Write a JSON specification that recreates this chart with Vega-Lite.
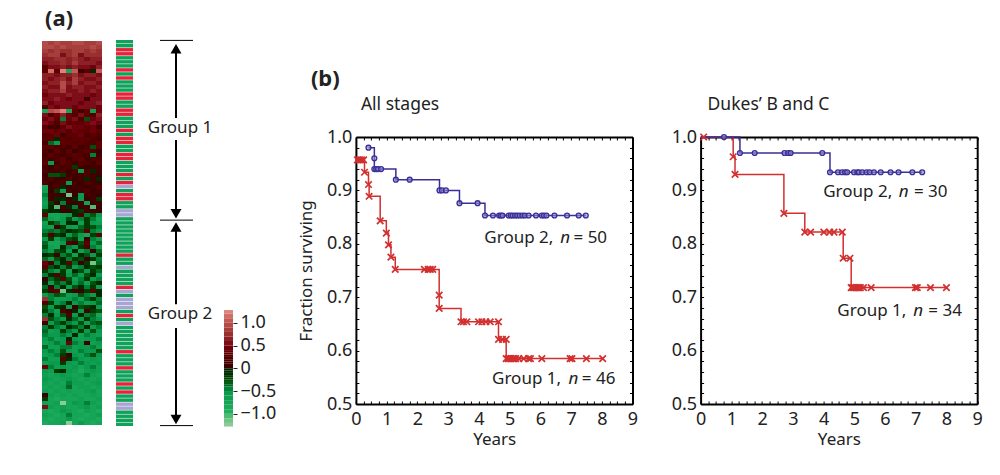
{"$schema":"https://vega.github.io/schema/vega-lite/v6.json","background":"white","padding":{"left":42,"top":8,"right":5,"bottom":5},
"config":{"view":{"stroke":null},"font":"Noto Sans","axis":{"labelFont":"Noto Sans","titleFont":"Noto Sans","labelColor":"#222","titleColor":"#222","labelFontSize":18,"titleFontSize":17,"titleFontWeight":"normal","grid":false},"title":{"font":"Noto Sans","color":"#222"}},
"datasets":{
"km":[
{"p":"A","g":1,"t":0,"f":0.957,"c":0},{"p":"A","g":1,"t":0.05,"f":0.957,"c":1},{"p":"A","g":1,"t":0.12,"f":0.957,"c":1},{"p":"A","g":1,"t":0.18,"f":0.957,"c":1},{"p":"A","g":1,"t":0.25,"f":0.957,"c":1},{"p":"A","g":1,"t":0.28,"f":0.934,"c":1},{"p":"A","g":1,"t":0.41,"f":0.911,"c":1},{"p":"A","g":1,"t":0.43,"f":0.889,"c":1},{"p":"A","g":1,"t":0.79,"f":0.843,"c":1},{"p":"A","g":1,"t":0.99,"f":0.82,"c":1},{"p":"A","g":1,"t":1.06,"f":0.798,"c":1},{"p":"A","g":1,"t":1.14,"f":0.775,"c":1},{"p":"A","g":1,"t":1.28,"f":0.752,"c":1},{"p":"A","g":1,"t":2.23,"f":0.752,"c":1},{"p":"A","g":1,"t":2.35,"f":0.752,"c":1},{"p":"A","g":1,"t":2.42,"f":0.752,"c":1},{"p":"A","g":1,"t":2.5,"f":0.752,"c":1},{"p":"A","g":1,"t":2.71,"f":0.704,"c":1},{"p":"A","g":1,"t":2.71,"f":0.679,"c":1},{"p":"A","g":1,"t":3.42,"f":0.654,"c":1},{"p":"A","g":1,"t":3.5,"f":0.654,"c":1},{"p":"A","g":1,"t":3.61,"f":0.654,"c":1},{"p":"A","g":1,"t":3.99,"f":0.654,"c":1},{"p":"A","g":1,"t":4.1,"f":0.654,"c":1},{"p":"A","g":1,"t":4.23,"f":0.654,"c":1},{"p":"A","g":1,"t":4.37,"f":0.654,"c":1},{"p":"A","g":1,"t":4.64,"f":0.654,"c":1},{"p":"A","g":1,"t":4.64,"f":0.621,"c":1},{"p":"A","g":1,"t":4.77,"f":0.621,"c":1},{"p":"A","g":1,"t":4.89,"f":0.621,"c":1},{"p":"A","g":1,"t":4.89,"f":0.585,"c":1},{"p":"A","g":1,"t":4.95,"f":0.585,"c":1},{"p":"A","g":1,"t":5,"f":0.585,"c":1},{"p":"A","g":1,"t":5.05,"f":0.585,"c":1},{"p":"A","g":1,"t":5.1,"f":0.585,"c":1},{"p":"A","g":1,"t":5.15,"f":0.585,"c":1},{"p":"A","g":1,"t":5.2,"f":0.585,"c":1},{"p":"A","g":1,"t":5.3,"f":0.585,"c":1},{"p":"A","g":1,"t":5.46,"f":0.585,"c":1},{"p":"A","g":1,"t":5.62,"f":0.585,"c":1},{"p":"A","g":1,"t":5.68,"f":0.585,"c":1},{"p":"A","g":1,"t":6.05,"f":0.585,"c":1},{"p":"A","g":1,"t":6.97,"f":0.585,"c":1},{"p":"A","g":1,"t":7.03,"f":0.585,"c":1},{"p":"A","g":1,"t":7.5,"f":0.585,"c":1},{"p":"A","g":1,"t":8.03,"f":0.585,"c":1},
{"p":"A","g":2,"t":0.41,"f":0.98,"c":1},{"p":"A","g":2,"t":0.58,"f":0.98,"c":0},{"p":"A","g":2,"t":0.6,"f":0.96,"c":1},{"p":"A","g":2,"t":0.6,"f":0.94,"c":1},{"p":"A","g":2,"t":0.66,"f":0.94,"c":1},{"p":"A","g":2,"t":0.72,"f":0.94,"c":1},{"p":"A","g":2,"t":0.82,"f":0.94,"c":1},{"p":"A","g":2,"t":1.3,"f":0.92,"c":1},{"p":"A","g":2,"t":1.75,"f":0.92,"c":1},{"p":"A","g":2,"t":2.72,"f":0.9,"c":1},{"p":"A","g":2,"t":2.8,"f":0.9,"c":1},{"p":"A","g":2,"t":2.93,"f":0.9,"c":1},{"p":"A","g":2,"t":3.37,"f":0.876,"c":1},{"p":"A","g":2,"t":3.96,"f":0.876,"c":1},{"p":"A","g":2,"t":4.2,"f":0.853,"c":1},{"p":"A","g":2,"t":4.46,"f":0.853,"c":1},{"p":"A","g":2,"t":4.66,"f":0.853,"c":1},{"p":"A","g":2,"t":4.72,"f":0.853,"c":1},{"p":"A","g":2,"t":4.77,"f":0.853,"c":1},{"p":"A","g":2,"t":4.97,"f":0.853,"c":1},{"p":"A","g":2,"t":5.04,"f":0.853,"c":1},{"p":"A","g":2,"t":5.1,"f":0.853,"c":1},{"p":"A","g":2,"t":5.18,"f":0.853,"c":1},{"p":"A","g":2,"t":5.25,"f":0.853,"c":1},{"p":"A","g":2,"t":5.33,"f":0.853,"c":1},{"p":"A","g":2,"t":5.42,"f":0.853,"c":1},{"p":"A","g":2,"t":5.5,"f":0.853,"c":1},{"p":"A","g":2,"t":5.62,"f":0.853,"c":1},{"p":"A","g":2,"t":5.86,"f":0.853,"c":1},{"p":"A","g":2,"t":6.05,"f":0.853,"c":1},{"p":"A","g":2,"t":6.12,"f":0.853,"c":1},{"p":"A","g":2,"t":6.2,"f":0.853,"c":1},{"p":"A","g":2,"t":6.46,"f":0.853,"c":1},{"p":"A","g":2,"t":6.87,"f":0.853,"c":1},{"p":"A","g":2,"t":7.25,"f":0.853,"c":1},{"p":"A","g":2,"t":7.48,"f":0.853,"c":1},
{"p":"B","g":1,"t":0,"f":1,"c":0},{"p":"B","g":1,"t":0.1,"f":1,"c":1},{"p":"B","g":1,"t":1.06,"f":0.963,"c":1},{"p":"B","g":1,"t":1.12,"f":0.93,"c":1},{"p":"B","g":1,"t":2.71,"f":0.857,"c":1},{"p":"B","g":1,"t":3.39,"f":0.822,"c":1},{"p":"B","g":1,"t":3.58,"f":0.822,"c":1},{"p":"B","g":1,"t":4.01,"f":0.822,"c":1},{"p":"B","g":1,"t":4.2,"f":0.822,"c":1},{"p":"B","g":1,"t":4.34,"f":0.822,"c":1},{"p":"B","g":1,"t":4.61,"f":0.822,"c":1},{"p":"B","g":1,"t":4.64,"f":0.773,"c":1},{"p":"B","g":1,"t":4.86,"f":0.773,"c":1},{"p":"B","g":1,"t":4.9,"f":0.718,"c":1},{"p":"B","g":1,"t":4.95,"f":0.718,"c":1},{"p":"B","g":1,"t":5,"f":0.718,"c":1},{"p":"B","g":1,"t":5.05,"f":0.718,"c":1},{"p":"B","g":1,"t":5.1,"f":0.718,"c":1},{"p":"B","g":1,"t":5.15,"f":0.718,"c":1},{"p":"B","g":1,"t":5.2,"f":0.718,"c":1},{"p":"B","g":1,"t":5.3,"f":0.718,"c":1},{"p":"B","g":1,"t":5.55,"f":0.718,"c":1},{"p":"B","g":1,"t":6.99,"f":0.718,"c":1},{"p":"B","g":1,"t":7.05,"f":0.718,"c":1},{"p":"B","g":1,"t":7.48,"f":0.718,"c":1},{"p":"B","g":1,"t":8,"f":0.718,"c":1},
{"p":"B","g":2,"t":0,"f":1,"c":0},{"p":"B","g":2,"t":0.76,"f":1,"c":1},{"p":"B","g":2,"t":1.28,"f":0.97,"c":1},{"p":"B","g":2,"t":1.76,"f":0.97,"c":1},{"p":"B","g":2,"t":2.73,"f":0.97,"c":1},{"p":"B","g":2,"t":2.85,"f":0.97,"c":1},{"p":"B","g":2,"t":2.93,"f":0.97,"c":1},{"p":"B","g":2,"t":3.96,"f":0.97,"c":1},{"p":"B","g":2,"t":4.21,"f":0.934,"c":1},{"p":"B","g":2,"t":4.47,"f":0.934,"c":1},{"p":"B","g":2,"t":4.6,"f":0.934,"c":1},{"p":"B","g":2,"t":4.7,"f":0.934,"c":1},{"p":"B","g":2,"t":4.77,"f":0.934,"c":1},{"p":"B","g":2,"t":4.99,"f":0.934,"c":1},{"p":"B","g":2,"t":5.1,"f":0.934,"c":1},{"p":"B","g":2,"t":5.15,"f":0.934,"c":1},{"p":"B","g":2,"t":5.26,"f":0.934,"c":1},{"p":"B","g":2,"t":5.4,"f":0.934,"c":1},{"p":"B","g":2,"t":5.5,"f":0.934,"c":1},{"p":"B","g":2,"t":5.64,"f":0.934,"c":1},{"p":"B","g":2,"t":5.86,"f":0.934,"c":1},{"p":"B","g":2,"t":6.18,"f":0.934,"c":1},{"p":"B","g":2,"t":6.44,"f":0.934,"c":1},{"p":"B","g":2,"t":6.89,"f":0.934,"c":1},{"p":"B","g":2,"t":7.21,"f":0.934,"c":1}
],
"notes":[{"p":"A","t":4.18,"f":0.8115,"s":"Group 2,","i":0},{"p":"A","t":6.65,"f":0.8115,"s":"n","i":1},{"p":"A","t":7.08,"f":0.8115,"s":"= 50","i":0},{"p":"A","t":4.43,"f":0.546,"s":"Group 1,","i":0},{"p":"A","t":6.92,"f":0.546,"s":"n","i":1},{"p":"A","t":7.35,"f":0.546,"s":"= 46","i":0},{"p":"B","t":3.99,"f":0.8976,"s":"Group 2,","i":0},{"p":"B","t":6.45,"f":0.8976,"s":"n","i":1},{"p":"B","t":6.94,"f":0.8976,"s":"= 30","i":0},{"p":"B","t":4.45,"f":0.674,"s":"Group 1,","i":0},{"p":"B","t":6.92,"f":0.674,"s":"n","i":1},{"p":"B","t":7.41,"f":0.674,"s":"= 34","i":0}],
"heat":[
{"r":0,"c":0,"v":0.9},{"r":0,"c":1,"v":0.8},{"r":0,"c":2,"v":0.9},{"r":0,"c":3,"v":0.8},{"r":0,"c":4,"v":0.8},{"r":0,"c":5,"v":0.9},{"r":0,"c":6,"v":0.9},{"r":0,"c":7,"v":0.8},{"r":0,"c":8,"v":0.8},{"r":0,"c":9,"v":0.9},
{"r":1,"c":0,"v":0.9},{"r":1,"c":1,"v":0.9},{"r":1,"c":2,"v":0.8},{"r":1,"c":3,"v":0.9},{"r":1,"c":4,"v":0.8},{"r":1,"c":5,"v":0.8},{"r":1,"c":6,"v":0.8},{"r":1,"c":7,"v":0.8},{"r":1,"c":8,"v":0.9},{"r":1,"c":9,"v":0.8},
{"r":2,"c":0,"v":0.8},{"r":2,"c":1,"v":0.7},{"r":2,"c":2,"v":0.8},{"r":2,"c":3,"v":0.7},{"r":2,"c":4,"v":0.7},{"r":2,"c":5,"v":0.8},{"r":2,"c":6,"v":0.8},{"r":2,"c":7,"v":0.7},{"r":2,"c":8,"v":0.8},{"r":2,"c":9,"v":0.7},
{"r":3,"c":0,"v":0.7},{"r":3,"c":1,"v":0.8},{"r":3,"c":2,"v":0.8},{"r":3,"c":3,"v":0.5},{"r":3,"c":4,"v":0.7},{"r":3,"c":5,"v":0.8},{"r":3,"c":6,"v":0.5},{"r":3,"c":7,"v":0.7},{"r":3,"c":8,"v":0.7},{"r":3,"c":9,"v":0.7},
{"r":4,"c":0,"v":0.6},{"r":4,"c":1,"v":0.6},{"r":4,"c":2,"v":0.7},{"r":4,"c":3,"v":0.7},{"r":4,"c":4,"v":0.6},{"r":4,"c":5,"v":0.7},{"r":4,"c":6,"v":0.6},{"r":4,"c":7,"v":0.5},{"r":4,"c":8,"v":0.6},{"r":4,"c":9,"v":0.6},
{"r":5,"c":0,"v":0.5},{"r":5,"c":1,"v":0.6},{"r":5,"c":2,"v":0.6},{"r":5,"c":3,"v":0.7},{"r":5,"c":4,"v":0.6},{"r":5,"c":5,"v":0.8},{"r":5,"c":6,"v":0.6},{"r":5,"c":7,"v":0.6},{"r":5,"c":8,"v":0.6},{"r":5,"c":9,"v":0.5},
{"r":6,"c":0,"v":0.3},{"r":6,"c":1,"v":0.5},{"r":6,"c":2,"v":0.5},{"r":6,"c":3,"v":0.6},{"r":6,"c":4,"v":0.5},{"r":6,"c":5,"v":0.6},{"r":6,"c":6,"v":0.5},{"r":6,"c":7,"v":0.5},{"r":6,"c":8,"v":0.4},{"r":6,"c":9,"v":0.6},
{"r":7,"c":0,"v":0.3},{"r":7,"c":1,"v":1.1},{"r":7,"c":2,"v":0.3},{"r":7,"c":3,"v":1.2},{"r":7,"c":4,"v":-0.8},{"r":7,"c":5,"v":1},{"r":7,"c":6,"v":0},{"r":7,"c":7,"v":0.3},{"r":7,"c":8,"v":-0.1},{"r":7,"c":9,"v":1},
{"r":8,"c":0,"v":0.6},{"r":8,"c":1,"v":0.6},{"r":8,"c":2,"v":0.5},{"r":8,"c":3,"v":0.6},{"r":8,"c":4,"v":0.6},{"r":8,"c":5,"v":0.7},{"r":8,"c":6,"v":0.5},{"r":8,"c":7,"v":0.6},{"r":8,"c":8,"v":0.6},{"r":8,"c":9,"v":0.5},
{"r":9,"c":0,"v":0.6},{"r":9,"c":1,"v":0.5},{"r":9,"c":2,"v":0.6},{"r":9,"c":3,"v":0.7},{"r":9,"c":4,"v":0.5},{"r":9,"c":5,"v":0.8},{"r":9,"c":6,"v":0.6},{"r":9,"c":7,"v":0.5},{"r":9,"c":8,"v":0.5},{"r":9,"c":9,"v":0.6},
{"r":10,"c":0,"v":0.5},{"r":10,"c":1,"v":0.6},{"r":10,"c":2,"v":0.6},{"r":10,"c":3,"v":0.9},{"r":10,"c":4,"v":0.6},{"r":10,"c":5,"v":0.8},{"r":10,"c":6,"v":0.5},{"r":10,"c":7,"v":0.6},{"r":10,"c":8,"v":0.6},{"r":10,"c":9,"v":0.5},
{"r":11,"c":0,"v":0.6},{"r":11,"c":1,"v":0.5},{"r":11,"c":2,"v":0.5},{"r":11,"c":3,"v":0.9},{"r":11,"c":4,"v":0.5},{"r":11,"c":5,"v":0.6},{"r":11,"c":6,"v":0.6},{"r":11,"c":7,"v":0.5},{"r":11,"c":8,"v":0.5},{"r":11,"c":9,"v":0.6},
{"r":12,"c":0,"v":0.5},{"r":12,"c":1,"v":0.6},{"r":12,"c":2,"v":0.6},{"r":12,"c":3,"v":0.8},{"r":12,"c":4,"v":0.5},{"r":12,"c":5,"v":0.5},{"r":12,"c":6,"v":0.6},{"r":12,"c":7,"v":0.5},{"r":12,"c":8,"v":0.6},{"r":12,"c":9,"v":0.5},
{"r":13,"c":0,"v":0.4},{"r":13,"c":1,"v":0.5},{"r":13,"c":2,"v":0.5},{"r":13,"c":3,"v":0.5},{"r":13,"c":4,"v":0.6},{"r":13,"c":5,"v":0.5},{"r":13,"c":6,"v":0.5},{"r":13,"c":7,"v":0.5},{"r":13,"c":8,"v":0.4},{"r":13,"c":9,"v":0.5},
{"r":14,"c":0,"v":0.5},{"r":14,"c":1,"v":0.5},{"r":14,"c":2,"v":0.6},{"r":14,"c":3,"v":0.5},{"r":14,"c":4,"v":0.4},{"r":14,"c":5,"v":0.5},{"r":14,"c":6,"v":0.5},{"r":14,"c":7,"v":0.1},{"r":14,"c":8,"v":0.5},{"r":14,"c":9,"v":0.5},
{"r":15,"c":0,"v":0.6},{"r":15,"c":1,"v":0.4},{"r":15,"c":2,"v":0.5},{"r":15,"c":3,"v":0.5},{"r":15,"c":4,"v":0.5},{"r":15,"c":5,"v":0.5},{"r":15,"c":6,"v":0.4},{"r":15,"c":7,"v":0.5},{"r":15,"c":8,"v":0.5},{"r":15,"c":9,"v":0.6},
{"r":16,"c":0,"v":0.2},{"r":16,"c":1,"v":0.5},{"r":16,"c":2,"v":0.4},{"r":16,"c":3,"v":0.5},{"r":16,"c":4,"v":0.5},{"r":16,"c":5,"v":0.4},{"r":16,"c":6,"v":0.5},{"r":16,"c":7,"v":0.5},{"r":16,"c":8,"v":0.5},{"r":16,"c":9,"v":0.4},
{"r":17,"c":0,"v":-0.8},{"r":17,"c":1,"v":0.9},{"r":17,"c":2,"v":1},{"r":17,"c":3,"v":1.2},{"r":17,"c":4,"v":-0.8},{"r":17,"c":5,"v":0.3},{"r":17,"c":6,"v":0.1},{"r":17,"c":7,"v":0.3},{"r":17,"c":8,"v":-0.7},{"r":17,"c":9,"v":0.4},
{"r":18,"c":0,"v":0.5},{"r":18,"c":1,"v":0.2},{"r":18,"c":2,"v":0.4},{"r":18,"c":3,"v":0.6},{"r":18,"c":4,"v":0.4},{"r":18,"c":5,"v":0.2},{"r":18,"c":6,"v":0.5},{"r":18,"c":7,"v":0.3},{"r":18,"c":8,"v":0.2},{"r":18,"c":9,"v":0.6},
{"r":19,"c":0,"v":0.4},{"r":19,"c":1,"v":0.5},{"r":19,"c":2,"v":0.3},{"r":19,"c":3,"v":-0.5},{"r":19,"c":4,"v":0.4},{"r":19,"c":5,"v":0.5},{"r":19,"c":6,"v":0.2},{"r":19,"c":7,"v":-0.3},{"r":19,"c":8,"v":0.4},{"r":19,"c":9,"v":0.5},
{"r":20,"c":0,"v":0.5},{"r":20,"c":1,"v":0.4},{"r":20,"c":2,"v":0.2},{"r":20,"c":3,"v":0.5},{"r":20,"c":4,"v":0.3},{"r":20,"c":5,"v":0.3},{"r":20,"c":6,"v":0.3},{"r":20,"c":7,"v":0.4},{"r":20,"c":8,"v":0.5},{"r":20,"c":9,"v":0.4},
{"r":21,"c":0,"v":0.3},{"r":21,"c":1,"v":0.1},{"r":21,"c":2,"v":0.1},{"r":21,"c":3,"v":0.3},{"r":21,"c":4,"v":0.5},{"r":21,"c":5,"v":0.4},{"r":21,"c":6,"v":0.4},{"r":21,"c":7,"v":0.3},{"r":21,"c":8,"v":0.4},{"r":21,"c":9,"v":0.1},
{"r":22,"c":0,"v":0.4},{"r":22,"c":1,"v":0.4},{"r":22,"c":2,"v":0.3},{"r":22,"c":3,"v":0.4},{"r":22,"c":4,"v":0.2},{"r":22,"c":5,"v":0.4},{"r":22,"c":6,"v":0.3},{"r":22,"c":7,"v":0.3},{"r":22,"c":8,"v":0.4},{"r":22,"c":9,"v":0.3},
{"r":23,"c":0,"v":0.2},{"r":23,"c":1,"v":0.3},{"r":23,"c":2,"v":0.4},{"r":23,"c":3,"v":0.1},{"r":23,"c":4,"v":0.3},{"r":23,"c":5,"v":0.3},{"r":23,"c":6,"v":0.4},{"r":23,"c":7,"v":0.1},{"r":23,"c":8,"v":0.3},{"r":23,"c":9,"v":0.2},
{"r":24,"c":0,"v":0.3},{"r":24,"c":1,"v":0.3},{"r":24,"c":2,"v":-0.1},{"r":24,"c":3,"v":0.3},{"r":24,"c":4,"v":0.2},{"r":24,"c":5,"v":0.3},{"r":24,"c":6,"v":0.3},{"r":24,"c":7,"v":0.3},{"r":24,"c":8,"v":0.2},{"r":24,"c":9,"v":0.1},
{"r":25,"c":0,"v":0.1},{"r":25,"c":1,"v":-0.4},{"r":25,"c":2,"v":-0.6},{"r":25,"c":3,"v":0.3},{"r":25,"c":4,"v":0.3},{"r":25,"c":5,"v":0.2},{"r":25,"c":6,"v":0.3},{"r":25,"c":7,"v":0.2},{"r":25,"c":8,"v":0.2},{"r":25,"c":9,"v":0.3},
{"r":26,"c":0,"v":0.3},{"r":26,"c":1,"v":0.3},{"r":26,"c":2,"v":0.2},{"r":26,"c":3,"v":0.2},{"r":26,"c":4,"v":0.1},{"r":26,"c":5,"v":0.3},{"r":26,"c":6,"v":0.1},{"r":26,"c":7,"v":0.2},{"r":26,"c":8,"v":-0.3},{"r":26,"c":9,"v":0.3},
{"r":27,"c":0,"v":0.2},{"r":27,"c":1,"v":0},{"r":27,"c":2,"v":0.3},{"r":27,"c":3,"v":0.1},{"r":27,"c":4,"v":0.3},{"r":27,"c":5,"v":0},{"r":27,"c":6,"v":0.2},{"r":27,"c":7,"v":0.3},{"r":27,"c":8,"v":0.2},{"r":27,"c":9,"v":0},
{"r":28,"c":0,"v":0.1},{"r":28,"c":1,"v":0.3},{"r":28,"c":2,"v":0.2},{"r":28,"c":3,"v":0.1},{"r":28,"c":4,"v":0.2},{"r":28,"c":5,"v":0.3},{"r":28,"c":6,"v":0.2},{"r":28,"c":7,"v":0.1},{"r":28,"c":8,"v":-0.5},{"r":28,"c":9,"v":0.1},
{"r":29,"c":0,"v":0.2},{"r":29,"c":1,"v":0.1},{"r":29,"c":2,"v":0.2},{"r":29,"c":3,"v":0.3},{"r":29,"c":4,"v":0.1},{"r":29,"c":5,"v":0.2},{"r":29,"c":6,"v":0.3},{"r":29,"c":7,"v":0.1},{"r":29,"c":8,"v":0.2},{"r":29,"c":9,"v":0.2},
{"r":30,"c":0,"v":0.3},{"r":30,"c":1,"v":-0.6},{"r":30,"c":2,"v":0.1},{"r":30,"c":3,"v":0.3},{"r":30,"c":4,"v":0.2},{"r":30,"c":5,"v":0.1},{"r":30,"c":6,"v":0.2},{"r":30,"c":7,"v":0.2},{"r":30,"c":8,"v":0.1},{"r":30,"c":9,"v":0.3},
{"r":31,"c":0,"v":0.1},{"r":31,"c":1,"v":0},{"r":31,"c":2,"v":0.2},{"r":31,"c":3,"v":0.1},{"r":31,"c":4,"v":0.2},{"r":31,"c":5,"v":-0.2},{"r":31,"c":6,"v":0.1},{"r":31,"c":7,"v":0},{"r":31,"c":8,"v":0.1},{"r":31,"c":9,"v":0.1},
{"r":32,"c":0,"v":0.2},{"r":32,"c":1,"v":0.1},{"r":32,"c":2,"v":0.1},{"r":32,"c":3,"v":0.2},{"r":32,"c":4,"v":0},{"r":32,"c":5,"v":0.2},{"r":32,"c":6,"v":-0.6},{"r":32,"c":7,"v":0.2},{"r":32,"c":8,"v":-0.1},{"r":32,"c":9,"v":0.1},
{"r":33,"c":0,"v":0},{"r":33,"c":1,"v":-0.3},{"r":33,"c":2,"v":-0.3},{"r":33,"c":3,"v":-0.2},{"r":33,"c":4,"v":0.1},{"r":33,"c":5,"v":0.1},{"r":33,"c":6,"v":0.1},{"r":33,"c":7,"v":0.2},{"r":33,"c":8,"v":0.1},{"r":33,"c":9,"v":0},
{"r":34,"c":0,"v":0.1},{"r":34,"c":1,"v":0.2},{"r":34,"c":2,"v":0.1},{"r":34,"c":3,"v":0},{"r":34,"c":4,"v":0.2},{"r":34,"c":5,"v":0},{"r":34,"c":6,"v":0.1},{"r":34,"c":7,"v":-0.1},{"r":34,"c":8,"v":0.1},{"r":34,"c":9,"v":-0.1},
{"r":35,"c":0,"v":0.2},{"r":35,"c":1,"v":0},{"r":35,"c":2,"v":0.1},{"r":35,"c":3,"v":0.2},{"r":35,"c":4,"v":-0.6},{"r":35,"c":5,"v":0.1},{"r":35,"c":6,"v":0},{"r":35,"c":7,"v":0.2},{"r":35,"c":8,"v":0.1},{"r":35,"c":9,"v":0},
{"r":36,"c":0,"v":-0.8},{"r":36,"c":1,"v":0.1},{"r":36,"c":2,"v":0.2},{"r":36,"c":3,"v":-0.1},{"r":36,"c":4,"v":0},{"r":36,"c":5,"v":0.1},{"r":36,"c":6,"v":0.1},{"r":36,"c":7,"v":0},{"r":36,"c":8,"v":0.1},{"r":36,"c":9,"v":0.2},
{"r":37,"c":0,"v":-0.7},{"r":37,"c":1,"v":0},{"r":37,"c":2,"v":-0.2},{"r":37,"c":3,"v":-0.6},{"r":37,"c":4,"v":0.1},{"r":37,"c":5,"v":0},{"r":37,"c":6,"v":0.1},{"r":37,"c":7,"v":0.2},{"r":37,"c":8,"v":0},{"r":37,"c":9,"v":0.1},
{"r":38,"c":0,"v":-0.5},{"r":38,"c":1,"v":0.1},{"r":38,"c":2,"v":0.1},{"r":38,"c":3,"v":0},{"r":38,"c":4,"v":-1.2},{"r":38,"c":5,"v":0},{"r":38,"c":6,"v":-0.6},{"r":38,"c":7,"v":0.1},{"r":38,"c":8,"v":0.1},{"r":38,"c":9,"v":0},
{"r":39,"c":0,"v":-0.6},{"r":39,"c":1,"v":0.1},{"r":39,"c":2,"v":-0.1},{"r":39,"c":3,"v":-0.1},{"r":39,"c":4,"v":0},{"r":39,"c":5,"v":-0.1},{"r":39,"c":6,"v":-0.6},{"r":39,"c":7,"v":0},{"r":39,"c":8,"v":0.1},{"r":39,"c":9,"v":-0.2},
{"r":40,"c":0,"v":-0.7},{"r":40,"c":1,"v":-0.2},{"r":40,"c":2,"v":0},{"r":40,"c":3,"v":-0.5},{"r":40,"c":4,"v":0},{"r":40,"c":5,"v":0},{"r":40,"c":6,"v":0.1},{"r":40,"c":7,"v":-0.7},{"r":40,"c":8,"v":0},{"r":40,"c":9,"v":0.1},
{"r":41,"c":0,"v":-0.6},{"r":41,"c":1,"v":-0.1},{"r":41,"c":2,"v":-1.1},{"r":41,"c":3,"v":0.1},{"r":41,"c":4,"v":-0.1},{"r":41,"c":5,"v":-0.5},{"r":41,"c":6,"v":0},{"r":41,"c":7,"v":0.1},{"r":41,"c":8,"v":-1.1},{"r":41,"c":9,"v":0},
{"r":42,"c":0,"v":-0.2},{"r":42,"c":1,"v":-0.1},{"r":42,"c":2,"v":-0.1},{"r":42,"c":3,"v":0},{"r":42,"c":4,"v":0},{"r":42,"c":5,"v":-0.1},{"r":42,"c":6,"v":-0.2},{"r":42,"c":7,"v":0.1},{"r":42,"c":8,"v":0.1},{"r":42,"c":9,"v":0},
{"r":43,"c":0,"v":0.3},{"r":43,"c":1,"v":-0.8},{"r":43,"c":2,"v":-0.8},{"r":43,"c":3,"v":-0.7},{"r":43,"c":4,"v":-0.6},{"r":43,"c":5,"v":-0.1},{"r":43,"c":6,"v":0.2},{"r":43,"c":7,"v":-0.5},{"r":43,"c":8,"v":-0.3},{"r":43,"c":9,"v":-0.6},
{"r":44,"c":0,"v":-0.4},{"r":44,"c":1,"v":-0.7},{"r":44,"c":2,"v":-0.8},{"r":44,"c":3,"v":-0.6},{"r":44,"c":4,"v":-0.3},{"r":44,"c":5,"v":-0.6},{"r":44,"c":6,"v":-0.5},{"r":44,"c":7,"v":-0.2},{"r":44,"c":8,"v":-0.5},{"r":44,"c":9,"v":-0.8},
{"r":45,"c":0,"v":-0.7},{"r":45,"c":1,"v":-0.2},{"r":45,"c":2,"v":-0.4},{"r":45,"c":3,"v":-0.6},{"r":45,"c":4,"v":-0.1},{"r":45,"c":5,"v":-0.1},{"r":45,"c":6,"v":-0.7},{"r":45,"c":7,"v":-0.2},{"r":45,"c":8,"v":-0.6},{"r":45,"c":9,"v":-0.7},
{"r":46,"c":0,"v":-0.6},{"r":46,"c":1,"v":-0.7},{"r":46,"c":2,"v":0.1},{"r":46,"c":3,"v":-0.2},{"r":46,"c":4,"v":-0.6},{"r":46,"c":5,"v":-0.7},{"r":46,"c":6,"v":-0.4},{"r":46,"c":7,"v":-0.2},{"r":46,"c":8,"v":-0.3},{"r":46,"c":9,"v":-0.5},
{"r":47,"c":0,"v":-0.5},{"r":47,"c":1,"v":-0.4},{"r":47,"c":2,"v":-0.5},{"r":47,"c":3,"v":-0.3},{"r":47,"c":4,"v":-0.1},{"r":47,"c":5,"v":-0.2},{"r":47,"c":6,"v":-0.3},{"r":47,"c":7,"v":0.3},{"r":47,"c":8,"v":-0.5},{"r":47,"c":9,"v":-0.6},
{"r":48,"c":0,"v":-0.3},{"r":48,"c":1,"v":0.2},{"r":48,"c":2,"v":-0.2},{"r":48,"c":3,"v":-0.1},{"r":48,"c":4,"v":-0.6},{"r":48,"c":5,"v":-0.4},{"r":48,"c":6,"v":-0.6},{"r":48,"c":7,"v":-0.8},{"r":48,"c":8,"v":-0.2},{"r":48,"c":9,"v":0.3},
{"r":49,"c":0,"v":-0.6},{"r":49,"c":1,"v":-0.2},{"r":49,"c":2,"v":-0.7},{"r":49,"c":3,"v":-0.5},{"r":49,"c":4,"v":-0.3},{"r":49,"c":5,"v":-0.2},{"r":49,"c":6,"v":-0.7},{"r":49,"c":7,"v":0},{"r":49,"c":8,"v":-0.5},{"r":49,"c":9,"v":-0.6},
{"r":50,"c":0,"v":-0.4},{"r":50,"c":1,"v":-0.8},{"r":50,"c":2,"v":-0.8},{"r":50,"c":3,"v":-0.6},{"r":50,"c":4,"v":0.2},{"r":50,"c":5,"v":0.1},{"r":50,"c":6,"v":-0.3},{"r":50,"c":7,"v":0.3},{"r":50,"c":8,"v":-0.6},{"r":50,"c":9,"v":-0.4},
{"r":51,"c":0,"v":-0.3},{"r":51,"c":1,"v":-0.7},{"r":51,"c":2,"v":-0.8},{"r":51,"c":3,"v":-0.1},{"r":51,"c":4,"v":-0.5},{"r":51,"c":5,"v":-0.6},{"r":51,"c":6,"v":-0.2},{"r":51,"c":7,"v":0.2},{"r":51,"c":8,"v":-0.5},{"r":51,"c":9,"v":-0.7},
{"r":52,"c":0,"v":-0.5},{"r":52,"c":1,"v":-0.6},{"r":52,"c":2,"v":-0.3},{"r":52,"c":3,"v":-0.2},{"r":52,"c":4,"v":-0.6},{"r":52,"c":5,"v":-0.1},{"r":52,"c":6,"v":-0.7},{"r":52,"c":7,"v":-0.5},{"r":52,"c":8,"v":0},{"r":52,"c":9,"v":-0.4},
{"r":53,"c":0,"v":-0.1},{"r":53,"c":1,"v":-0.2},{"r":53,"c":2,"v":0},{"r":53,"c":3,"v":-0.5},{"r":53,"c":4,"v":-0.3},{"r":53,"c":5,"v":-0.7},{"r":53,"c":6,"v":-0.1},{"r":53,"c":7,"v":-0.3},{"r":53,"c":8,"v":-0.6},{"r":53,"c":9,"v":-0.2},
{"r":54,"c":0,"v":-0.4},{"r":54,"c":1,"v":-0.6},{"r":54,"c":2,"v":-0.3},{"r":54,"c":3,"v":-0.1},{"r":54,"c":4,"v":-0.5},{"r":54,"c":5,"v":-0.2},{"r":54,"c":6,"v":-0.3},{"r":54,"c":7,"v":0},{"r":54,"c":8,"v":-0.2},{"r":54,"c":9,"v":-0.5},
{"r":55,"c":0,"v":0.4},{"r":55,"c":1,"v":0.1},{"r":55,"c":2,"v":-0.5},{"r":55,"c":3,"v":-0.1},{"r":55,"c":4,"v":0.3},{"r":55,"c":5,"v":-0.4},{"r":55,"c":6,"v":0},{"r":55,"c":7,"v":-0.2},{"r":55,"c":8,"v":-1.2},{"r":55,"c":9,"v":-0.4},
{"r":56,"c":0,"v":0.3},{"r":56,"c":1,"v":-0.3},{"r":56,"c":2,"v":-0.1},{"r":56,"c":3,"v":-0.5},{"r":56,"c":4,"v":-0.2},{"r":56,"c":5,"v":-0.6},{"r":56,"c":6,"v":-0.5},{"r":56,"c":7,"v":-0.1},{"r":56,"c":8,"v":-0.3},{"r":56,"c":9,"v":-0.2},
{"r":57,"c":0,"v":-0.2},{"r":57,"c":1,"v":-0.5},{"r":57,"c":2,"v":-0.6},{"r":57,"c":3,"v":-0.2},{"r":57,"c":4,"v":-0.7},{"r":57,"c":5,"v":-0.1},{"r":57,"c":6,"v":-0.3},{"r":57,"c":7,"v":-0.6},{"r":57,"c":8,"v":-0.2},{"r":57,"c":9,"v":-0.4},
{"r":58,"c":0,"v":-0.5},{"r":58,"c":1,"v":-0.1},{"r":58,"c":2,"v":0.2},{"r":58,"c":3,"v":-0.2},{"r":58,"c":4,"v":-0.6},{"r":58,"c":5,"v":-0.4},{"r":58,"c":6,"v":-0.6},{"r":58,"c":7,"v":-0.3},{"r":58,"c":8,"v":-0.1},{"r":58,"c":9,"v":-0.6},
{"r":59,"c":0,"v":0},{"r":59,"c":1,"v":-0.4},{"r":59,"c":2,"v":-0.2},{"r":59,"c":3,"v":0.3},{"r":59,"c":4,"v":-0.3},{"r":59,"c":5,"v":-0.7},{"r":59,"c":6,"v":-0.5},{"r":59,"c":7,"v":-0.2},{"r":59,"c":8,"v":-0.6},{"r":59,"c":9,"v":-0.5},
{"r":60,"c":0,"v":-0.1},{"r":60,"c":1,"v":-0.6},{"r":60,"c":2,"v":-0.3},{"r":60,"c":3,"v":-0.5},{"r":60,"c":4,"v":-0.2},{"r":60,"c":5,"v":-0.6},{"r":60,"c":6,"v":-0.4},{"r":60,"c":7,"v":-0.7},{"r":60,"c":8,"v":-0.3},{"r":60,"c":9,"v":-0.1},
{"r":61,"c":0,"v":-0.4},{"r":61,"c":1,"v":0},{"r":61,"c":2,"v":-0.5},{"r":61,"c":3,"v":-0.1},{"r":61,"c":4,"v":-0.6},{"r":61,"c":5,"v":-0.3},{"r":61,"c":6,"v":-0.1},{"r":61,"c":7,"v":-0.5},{"r":61,"c":8,"v":-0.2},{"r":61,"c":9,"v":-0.6},
{"r":62,"c":0,"v":-0.2},{"r":62,"c":1,"v":0.2},{"r":62,"c":2,"v":0.3},{"r":62,"c":3,"v":-1.2},{"r":62,"c":4,"v":-0.1},{"r":62,"c":5,"v":0.1},{"r":62,"c":6,"v":0},{"r":62,"c":7,"v":-0.2},{"r":62,"c":8,"v":0.3},{"r":62,"c":9,"v":-0.1},
{"r":63,"c":0,"v":-0.6},{"r":63,"c":1,"v":-0.5},{"r":63,"c":2,"v":-0.3},{"r":63,"c":3,"v":-0.4},{"r":63,"c":4,"v":-0.7},{"r":63,"c":5,"v":-0.6},{"r":63,"c":6,"v":-0.3},{"r":63,"c":7,"v":-0.5},{"r":63,"c":8,"v":-0.6},{"r":63,"c":9,"v":-0.1},
{"r":64,"c":0,"v":0.7},{"r":64,"c":1,"v":-0.5},{"r":64,"c":2,"v":-0.7},{"r":64,"c":3,"v":-0.7},{"r":64,"c":4,"v":-0.6},{"r":64,"c":5,"v":-0.5},{"r":64,"c":6,"v":-0.7},{"r":64,"c":7,"v":-0.4},{"r":64,"c":8,"v":-0.2},{"r":64,"c":9,"v":-0.5},
{"r":65,"c":0,"v":0.2},{"r":65,"c":1,"v":-0.2},{"r":65,"c":2,"v":-0.6},{"r":65,"c":3,"v":-0.5},{"r":65,"c":4,"v":-0.1},{"r":65,"c":5,"v":-0.6},{"r":65,"c":6,"v":-0.5},{"r":65,"c":7,"v":-0.7},{"r":65,"c":8,"v":-0.6},{"r":65,"c":9,"v":-0.4},
{"r":66,"c":0,"v":-0.3},{"r":66,"c":1,"v":-0.6},{"r":66,"c":2,"v":-0.2},{"r":66,"c":3,"v":-0.1},{"r":66,"c":4,"v":-0.6},{"r":66,"c":5,"v":0},{"r":66,"c":6,"v":-0.3},{"r":66,"c":7,"v":-0.2},{"r":66,"c":8,"v":-0.1},{"r":66,"c":9,"v":-0.6},
{"r":67,"c":0,"v":-0.2},{"r":67,"c":1,"v":-0.5},{"r":67,"c":2,"v":-0.7},{"r":67,"c":3,"v":0.2},{"r":67,"c":4,"v":0},{"r":67,"c":5,"v":-0.1},{"r":67,"c":6,"v":-0.6},{"r":67,"c":7,"v":0.1},{"r":67,"c":8,"v":-0.2},{"r":67,"c":9,"v":-0.3},
{"r":68,"c":0,"v":-0.5},{"r":68,"c":1,"v":-0.1},{"r":68,"c":2,"v":-0.6},{"r":68,"c":3,"v":-0.3},{"r":68,"c":4,"v":0.2},{"r":68,"c":5,"v":-0.6},{"r":68,"c":6,"v":-0.1},{"r":68,"c":7,"v":-0.5},{"r":68,"c":8,"v":-0.4},{"r":68,"c":9,"v":-0.8},
{"r":69,"c":0,"v":0.7},{"r":69,"c":1,"v":-0.3},{"r":69,"c":2,"v":-0.5},{"r":69,"c":3,"v":-0.6},{"r":69,"c":4,"v":-0.1},{"r":69,"c":5,"v":-0.4},{"r":69,"c":6,"v":-0.6},{"r":69,"c":7,"v":-0.2},{"r":69,"c":8,"v":-0.5},{"r":69,"c":9,"v":-0.6},
{"r":70,"c":0,"v":0.1},{"r":70,"c":1,"v":-0.6},{"r":70,"c":2,"v":-0.4},{"r":70,"c":3,"v":-0.2},{"r":70,"c":4,"v":-0.5},{"r":70,"c":5,"v":-0.6},{"r":70,"c":6,"v":-0.3},{"r":70,"c":7,"v":-0.7},{"r":70,"c":8,"v":-0.4},{"r":70,"c":9,"v":-0.3},
{"r":71,"c":0,"v":-0.5},{"r":71,"c":1,"v":-0.2},{"r":71,"c":2,"v":-0.5},{"r":71,"c":3,"v":-0.6},{"r":71,"c":4,"v":-0.1},{"r":71,"c":5,"v":-0.3},{"r":71,"c":6,"v":-0.5},{"r":71,"c":7,"v":-0.1},{"r":71,"c":8,"v":-0.6},{"r":71,"c":9,"v":-0.5},
{"r":72,"c":0,"v":-0.4},{"r":72,"c":1,"v":-0.7},{"r":72,"c":2,"v":-0.6},{"r":72,"c":3,"v":-0.2},{"r":72,"c":4,"v":-0.5},{"r":72,"c":5,"v":-0.6},{"r":72,"c":6,"v":-0.2},{"r":72,"c":7,"v":-0.6},{"r":72,"c":8,"v":-0.3},{"r":72,"c":9,"v":-0.6},
{"r":73,"c":0,"v":-0.5},{"r":73,"c":1,"v":-0.6},{"r":73,"c":2,"v":-0.6},{"r":73,"c":3,"v":-0.5},{"r":73,"c":4,"v":-0.6},{"r":73,"c":5,"v":-0.1},{"r":73,"c":6,"v":-0.7},{"r":73,"c":7,"v":-0.5},{"r":73,"c":8,"v":-0.6},{"r":73,"c":9,"v":-0.7},
{"r":74,"c":0,"v":-0.6},{"r":74,"c":1,"v":-0.5},{"r":74,"c":2,"v":-0.7},{"r":74,"c":3,"v":-0.6},{"r":74,"c":4,"v":-0.1},{"r":74,"c":5,"v":-0.6},{"r":74,"c":6,"v":-0.7},{"r":74,"c":7,"v":-0.6},{"r":74,"c":8,"v":-0.6},{"r":74,"c":9,"v":-0.5},
{"r":75,"c":0,"v":-0.7},{"r":75,"c":1,"v":-0.6},{"r":75,"c":2,"v":-0.5},{"r":75,"c":3,"v":-0.6},{"r":75,"c":4,"v":0.4},{"r":75,"c":5,"v":-0.5},{"r":75,"c":6,"v":-0.6},{"r":75,"c":7,"v":0},{"r":75,"c":8,"v":-0.7},{"r":75,"c":9,"v":-0.6},
{"r":76,"c":0,"v":-0.4},{"r":76,"c":1,"v":-0.7},{"r":76,"c":2,"v":-0.7},{"r":76,"c":3,"v":-0.5},{"r":76,"c":4,"v":-0.5},{"r":76,"c":5,"v":-0.7},{"r":76,"c":6,"v":-0.6},{"r":76,"c":7,"v":-0.6},{"r":76,"c":8,"v":-0.5},{"r":76,"c":9,"v":-0.7},
{"r":77,"c":0,"v":-0.6},{"r":77,"c":1,"v":-0.5},{"r":77,"c":2,"v":-0.6},{"r":77,"c":3,"v":-0.3},{"r":77,"c":4,"v":-0.6},{"r":77,"c":5,"v":-0.7},{"r":77,"c":6,"v":-0.5},{"r":77,"c":7,"v":-0.6},{"r":77,"c":8,"v":-0.6},{"r":77,"c":9,"v":-0.3},
{"r":78,"c":0,"v":-0.7},{"r":78,"c":1,"v":-0.6},{"r":78,"c":2,"v":-0.5},{"r":78,"c":3,"v":-0.2},{"r":78,"c":4,"v":0},{"r":78,"c":5,"v":-0.6},{"r":78,"c":6,"v":-0.7},{"r":78,"c":7,"v":-0.5},{"r":78,"c":8,"v":-0.3},{"r":78,"c":9,"v":-0.6},
{"r":79,"c":0,"v":-0.5},{"r":79,"c":1,"v":-0.7},{"r":79,"c":2,"v":-0.7},{"r":79,"c":3,"v":0.3},{"r":79,"c":4,"v":-0.1},{"r":79,"c":5,"v":-0.5},{"r":79,"c":6,"v":-0.6},{"r":79,"c":7,"v":-0.7},{"r":79,"c":8,"v":-0.6},{"r":79,"c":9,"v":-0.7},
{"r":80,"c":0,"v":-0.7},{"r":80,"c":1,"v":-0.6},{"r":80,"c":2,"v":-0.6},{"r":80,"c":3,"v":-0.2},{"r":80,"c":4,"v":-0.6},{"r":80,"c":5,"v":-0.7},{"r":80,"c":6,"v":-0.5},{"r":80,"c":7,"v":-0.6},{"r":80,"c":8,"v":-0.7},{"r":80,"c":9,"v":-0.6},
{"r":81,"c":0,"v":0.4},{"r":81,"c":1,"v":-0.5},{"r":81,"c":2,"v":-0.7},{"r":81,"c":3,"v":-0.6},{"r":81,"c":4,"v":-0.7},{"r":81,"c":5,"v":-0.6},{"r":81,"c":6,"v":-0.8},{"r":81,"c":7,"v":-0.6},{"r":81,"c":8,"v":-0.5},{"r":81,"c":9,"v":-0.7},
{"r":82,"c":0,"v":-0.6},{"r":82,"c":1,"v":-0.7},{"r":82,"c":2,"v":-0.2},{"r":82,"c":3,"v":-0.1},{"r":82,"c":4,"v":-0.6},{"r":82,"c":5,"v":-0.7},{"r":82,"c":6,"v":-0.9},{"r":82,"c":7,"v":-0.7},{"r":82,"c":8,"v":-0.6},{"r":82,"c":9,"v":-0.7},
{"r":83,"c":0,"v":-0.7},{"r":83,"c":1,"v":-0.8},{"r":83,"c":2,"v":-0.7},{"r":83,"c":3,"v":-0.6},{"r":83,"c":4,"v":-0.7},{"r":83,"c":5,"v":-0.8},{"r":83,"c":6,"v":-0.7},{"r":83,"c":7,"v":-0.5},{"r":83,"c":8,"v":-0.7},{"r":83,"c":9,"v":-0.8},
{"r":84,"c":0,"v":-0.6},{"r":84,"c":1,"v":-0.7},{"r":84,"c":2,"v":-0.8},{"r":84,"c":3,"v":-0.7},{"r":84,"c":4,"v":-0.6},{"r":84,"c":5,"v":-0.7},{"r":84,"c":6,"v":-0.8},{"r":84,"c":7,"v":-0.7},{"r":84,"c":8,"v":-0.8},{"r":84,"c":9,"v":-0.7},
{"r":85,"c":0,"v":-0.7},{"r":85,"c":1,"v":-0.8},{"r":85,"c":2,"v":-0.7},{"r":85,"c":3,"v":-0.8},{"r":85,"c":4,"v":-0.5},{"r":85,"c":5,"v":-0.7},{"r":85,"c":6,"v":-0.7},{"r":85,"c":7,"v":-0.8},{"r":85,"c":8,"v":-0.7},{"r":85,"c":9,"v":-0.6},
{"r":86,"c":0,"v":-0.8},{"r":86,"c":1,"v":-0.7},{"r":86,"c":2,"v":-0.8},{"r":86,"c":3,"v":-0.7},{"r":86,"c":4,"v":-0.4},{"r":86,"c":5,"v":-0.8},{"r":86,"c":6,"v":-0.7},{"r":86,"c":7,"v":-0.7},{"r":86,"c":8,"v":-0.8},{"r":86,"c":9,"v":-0.7},
{"r":87,"c":0,"v":-0.7},{"r":87,"c":1,"v":-0.8},{"r":87,"c":2,"v":-0.7},{"r":87,"c":3,"v":-0.8},{"r":87,"c":4,"v":-0.7},{"r":87,"c":5,"v":-0.8},{"r":87,"c":6,"v":-0.8},{"r":87,"c":7,"v":-0.7},{"r":87,"c":8,"v":-0.6},{"r":87,"c":9,"v":-0.8},
{"r":88,"c":0,"v":0},{"r":88,"c":1,"v":-0.7},{"r":88,"c":2,"v":-0.8},{"r":88,"c":3,"v":-0.7},{"r":88,"c":4,"v":-0.8},{"r":88,"c":5,"v":-0.7},{"r":88,"c":6,"v":-0.8},{"r":88,"c":7,"v":-0.8},{"r":88,"c":8,"v":-0.7},{"r":88,"c":9,"v":-0.8},
{"r":89,"c":0,"v":-0.2},{"r":89,"c":1,"v":-0.8},{"r":89,"c":2,"v":-0.9},{"r":89,"c":3,"v":-0.8},{"r":89,"c":4,"v":-0.8},{"r":89,"c":5,"v":-0.8},{"r":89,"c":6,"v":-0.7},{"r":89,"c":7,"v":-0.8},{"r":89,"c":8,"v":-0.8},{"r":89,"c":9,"v":-0.7},
{"r":90,"c":0,"v":-0.7},{"r":90,"c":1,"v":-0.8},{"r":90,"c":2,"v":-0.7},{"r":90,"c":3,"v":-1.3},{"r":90,"c":4,"v":-0.8},{"r":90,"c":5,"v":-0.6},{"r":90,"c":6,"v":-0.7},{"r":90,"c":7,"v":-0.5},{"r":90,"c":8,"v":-0.7},{"r":90,"c":9,"v":-0.8},
{"r":91,"c":0,"v":0.5},{"r":91,"c":1,"v":-0.7},{"r":91,"c":2,"v":-0.8},{"r":91,"c":3,"v":-0.7},{"r":91,"c":4,"v":-0.8},{"r":91,"c":5,"v":-0.8},{"r":91,"c":6,"v":-0.7},{"r":91,"c":7,"v":-0.6},{"r":91,"c":8,"v":-0.8},{"r":91,"c":9,"v":-0.7},
{"r":92,"c":0,"v":-0.8},{"r":92,"c":1,"v":-0.9},{"r":92,"c":2,"v":-0.8},{"r":92,"c":3,"v":-0.6},{"r":92,"c":4,"v":-0.7},{"r":92,"c":5,"v":-0.8},{"r":92,"c":6,"v":-0.9},{"r":92,"c":7,"v":-0.7},{"r":92,"c":8,"v":-0.8},{"r":92,"c":9,"v":-0.9},
{"r":93,"c":0,"v":-0.7},{"r":93,"c":1,"v":-0.8},{"r":93,"c":2,"v":-0.9},{"r":93,"c":3,"v":-0.8},{"r":93,"c":4,"v":-0.5},{"r":93,"c":5,"v":-0.8},{"r":93,"c":6,"v":-0.8},{"r":93,"c":7,"v":-0.9},{"r":93,"c":8,"v":-0.8},{"r":93,"c":9,"v":-0.7},
{"r":94,"c":0,"v":-0.8},{"r":94,"c":1,"v":-0.9},{"r":94,"c":2,"v":-0.8},{"r":94,"c":3,"v":-0.8},{"r":94,"c":4,"v":-0.6},{"r":94,"c":5,"v":-0.8},{"r":94,"c":6,"v":-0.9},{"r":94,"c":7,"v":-0.8},{"r":94,"c":8,"v":-0.8},{"r":94,"c":9,"v":-0.9},
{"r":95,"c":0,"v":-0.9},{"r":95,"c":1,"v":-0.8},{"r":95,"c":2,"v":-0.8},{"r":95,"c":3,"v":-0.7},{"r":95,"c":4,"v":-1.3},{"r":95,"c":5,"v":-0.8},{"r":95,"c":6,"v":-0.6},{"r":95,"c":7,"v":-0.8},{"r":95,"c":8,"v":-0.9},{"r":95,"c":9,"v":-0.8}
]
},
"hconcat":[
{"hconcat":[
{"width":60,"height":386,"title":{"text":"(a)","anchor":"start","fontSize":22,"fontWeight":"bold","offset":9,"dx":3},
"data":{"name":"heat"},
"mark":{"type":"rect"},
"encoding":{"x":{"field":"c","type":"ordinal","axis":null},"y":{"field":"r","type":"ordinal","axis":null,"scale":{"round":true}},"color":{"field":"v","type":"quantitative","legend":null,"scale":{"domain":[-1.28,-1,-0.6,0,0.6,1,1.28],"range":["#8ccb97","#1fb060","#0b9a4e","#000000","#8c2024","#c05a55","#e8948c"],"clamp":true}}}},
{"width":17,"height":386,
"data":{"values":[{"r":0,"k":"G"},{"r":1,"k":"G"},{"r":2,"k":"R"},{"r":3,"k":"R"},{"r":4,"k":"G"},{"r":5,"k":"G"},{"r":6,"k":"G"},{"r":7,"k":"R"},{"r":8,"k":"G"},{"r":9,"k":"R"},{"r":10,"k":"G"},{"r":11,"k":"G"},{"r":12,"k":"G"},{"r":13,"k":"R"},{"r":14,"k":"R"},{"r":15,"k":"G"},{"r":16,"k":"G"},{"r":17,"k":"R"},{"r":18,"k":"R"},{"r":19,"k":"G"},{"r":20,"k":"G"},{"r":21,"k":"G"},{"r":22,"k":"R"},{"r":23,"k":"G"},{"r":24,"k":"R"},{"r":25,"k":"R"},{"r":26,"k":"G"},{"r":27,"k":"G"},{"r":28,"k":"R"},{"r":29,"k":"R"},{"r":30,"k":"G"},{"r":31,"k":"G"},{"r":32,"k":"G"},{"r":33,"k":"R"},{"r":34,"k":"G"},{"r":35,"k":"R"},{"r":36,"k":"B"},{"r":37,"k":"G"},{"r":38,"k":"R"},{"r":39,"k":"R"},{"r":40,"k":"G"},{"r":41,"k":"G"},{"r":42,"k":"B"},{"r":43,"k":"B"},{"r":44,"k":"G"},{"r":45,"k":"G"},{"r":46,"k":"G"},{"r":47,"k":"G"},{"r":48,"k":"G"},{"r":49,"k":"G"},{"r":50,"k":"G"},{"r":51,"k":"G"},{"r":52,"k":"G"},{"r":53,"k":"R"},{"r":54,"k":"G"},{"r":55,"k":"G"},{"r":56,"k":"B"},{"r":57,"k":"G"},{"r":58,"k":"G"},{"r":59,"k":"G"},{"r":60,"k":"G"},{"r":61,"k":"R"},{"r":62,"k":"B"},{"r":63,"k":"G"},{"r":64,"k":"B"},{"r":65,"k":"B"},{"r":66,"k":"B"},{"r":67,"k":"G"},{"r":68,"k":"R"},{"r":69,"k":"G"},{"r":70,"k":"B"},{"r":71,"k":"G"},{"r":72,"k":"G"},{"r":73,"k":"G"},{"r":74,"k":"G"},{"r":75,"k":"G"},{"r":76,"k":"G"},{"r":77,"k":"R"},{"r":78,"k":"G"},{"r":79,"k":"G"},{"r":80,"k":"G"},{"r":81,"k":"R"},{"r":82,"k":"G"},{"r":83,"k":"G"},{"r":84,"k":"G"},{"r":85,"k":"R"},{"r":86,"k":"G"},{"r":87,"k":"R"},{"r":88,"k":"G"},{"r":89,"k":"G"},{"r":90,"k":"B"},{"r":91,"k":"B"},{"r":92,"k":"G"},{"r":93,"k":"G"},{"r":94,"k":"G"},{"r":95,"k":"G"}]},
"mark":{"type":"rect"},
"encoding":{"x":{"value":0},"x2":{"value":17},"y":{"field":"r","type":"ordinal","axis":null,"scale":{"paddingInner":0.14,"paddingOuter":0}},"fill":{"field":"k","type":"nominal","legend":null,"scale":{"domain":["G","R","B"],"range":["#10a25a","#e5243b","#a9a5d2"]}}}},
{"width":63,"height":386,
"layer":[
{"data":{"values":[{"x":13,"x2":46,"y":0.1},{"x":13,"x2":46,"y":44.8},{"x":13,"x2":46,"y":95.9}]},"mark":{"type":"rule","color":"black","strokeWidth":1},
"encoding":{"x":{"field":"x","type":"quantitative","axis":null,"scale":{"domain":[0,63],"nice":false,"zero":false}},"x2":{"field":"x2"},"y":{"field":"y","type":"quantitative","axis":null,"scale":{"domain":[0,96],"reverse":true,"nice":false}}}},
{"data":{"values":[{"x":29,"y":2.7,"y2":19.4},{"x":29,"y":24.9,"y2":42},{"x":29,"y":47.5,"y2":65.7},{"x":29,"y":71.6,"y2":93.5}]},"mark":{"type":"rule","color":"black","strokeWidth":2},
"encoding":{"x":{"field":"x","type":"quantitative"},"y":{"field":"y","type":"quantitative"},"y2":{"field":"y2"}}},
{"data":{"values":[{"x":29,"y":2.2,"s":"triangle-up"},{"x":29,"y":43.2,"s":"triangle-down"},{"x":29,"y":46.5,"s":"triangle-up"},{"x":29,"y":94.4,"s":"triangle-down"}]},"mark":{"type":"point","filled":true,"color":"black","opacity":1,"size":120},
"encoding":{"x":{"field":"x","type":"quantitative"},"y":{"field":"y","type":"quantitative"},"shape":{"field":"s","type":"nominal","legend":null,"scale":null}}},
{"data":{"values":[{"x":33,"y":21.9,"s":"Group 1"},{"x":33,"y":68.2,"s":"Group 2"}]},"mark":{"type":"text","fontSize":17,"color":"#222"},
"encoding":{"x":{"field":"x","type":"quantitative"},"y":{"field":"y","type":"quantitative"},"text":{"field":"s"}}}
]},
{"width":9,"height":386,
"data":{"values":[{"v":-1.28,"w":-1.2},{"v":-1.2,"w":-1.1},{"v":-1.1,"w":-1},{"v":-1,"w":-0.9},{"v":-0.9,"w":-0.8},{"v":-0.8,"w":-0.7},{"v":-0.7,"w":-0.6},{"v":-0.6,"w":-0.5},{"v":-0.5,"w":-0.4},{"v":-0.4,"w":-0.35},{"v":-0.35,"w":-0.3},{"v":-0.3,"w":-0.25},{"v":-0.25,"w":-0.2},{"v":-0.2,"w":-0.15},{"v":-0.15,"w":-0.1},{"v":-0.1,"w":-0.05},{"v":-0.05,"w":0},{"v":0,"w":0.05},{"v":0.05,"w":0.1},{"v":0.1,"w":0.15},{"v":0.15,"w":0.2},{"v":0.2,"w":0.25},{"v":0.25,"w":0.3},{"v":0.3,"w":0.35},{"v":0.35,"w":0.4},{"v":0.4,"w":0.5},{"v":0.5,"w":0.6},{"v":0.6,"w":0.7},{"v":0.7,"w":0.8},{"v":0.8,"w":0.9},{"v":0.9,"w":1},{"v":1,"w":1.1},{"v":1.1,"w":1.2},{"v":1.2,"w":1.28}]},
"mark":{"type":"rect"},
"encoding":{"x":{"value":0},"x2":{"value":9},"y":{"field":"v","type":"quantitative","scale":{"domain":[-1.268,7.215],"nice":false,"zero":false},"axis":{"orient":"right","values":[-1,-0.5,0,0.5,1],"domain":false,"ticks":true,"tickSize":4,"tickColor":"#222","labelPadding":3,"labelExpr":"datum.value==0?'0':replace(format(datum.value,'.1f'),'-','–')","title":null}},"y2":{"field":"w"},"color":{"field":"v","type":"quantitative","legend":null,"scale":{"domain":[-1.28,-1,-0.6,0,0.6,1,1.28],"range":["#8ccb97","#1fb060","#0b9a4e","#000000","#8c2024","#c05a55","#e8948c"],"clamp":true}}}}
],"spacing":14,"bounds":"flush"},
{"vconcat":[
{"width":620,"height":97,"data":{"values":[{"x":-45,"y":39,"s":"(b)"}]},"mark":{"type":"text","fontSize":22,"fontWeight":"bold","align":"left","color":"#222"},
"encoding":{"x":{"field":"x","type":"quantitative","axis":null,"scale":{"domain":[0,620],"nice":false,"zero":false}},"y":{"field":"y","type":"quantitative","axis":null,"scale":{"domain":[0,97],"reverse":true,"nice":false}},"text":{"field":"s"}}},
{"hconcat":[
{"width":276.6,"height":267,"title":{"text":"All stages","anchor":"start","frame":"group","fontSize":17.5,"fontWeight":"normal","offset":15,"dx":5},
"layer":[
{"data":{"name":"km"},"transform":[{"filter":"datum.p=='A'&&datum.g==1"}],"mark":{"type":"line","color":"#d22f2f","strokeWidth":1.5,"interpolate":"step-after"},
"encoding":{"x":{"field":"t","type":"quantitative","scale":{"domain":[0,9],"nice":false},"axis":{"orient":"bottom","title":"Years","titlePadding":3,"values":[0,0.25,0.5,0.75,1,1.25,1.5,1.75,2,2.25,2.5,2.75,3,3.25,3.5,3.75,4,4.25,4.5,4.75,5,5.25,5.5,5.75,6,6.25,6.5,6.75,7,7.25,7.5,7.75,8,8.25,8.5,8.75,9],"labelExpr":"datum.value%1==0?datum.value:''","labelOverlap":false,"labelBound":false,"labelFlush":false,"tickSize":-3,"tickColor":"black","domainColor":"black","domainWidth":2,"labelPadding":9}},
"y":{"field":"f","type":"quantitative","scale":{"domain":[0.5,1],"nice":false,"zero":false},"axis":{"orient":"left","title":"Fraction surviving","titlePadding":11,"values":[0.5,0.52,0.54,0.56,0.58,0.6,0.62,0.64,0.66,0.68,0.7,0.72,0.74,0.76,0.78,0.8,0.82,0.84,0.86,0.88,0.9,0.92,0.94,0.96,0.98,1],"labelExpr":"round(datum.value*100)%10==0?format(datum.value,'.1f'):''","labelOverlap":false,"labelBound":false,"labelFlush":false,"tickSize":-3,"tickColor":"black","domainColor":"black","domainWidth":2,"labelPadding":7}}}},
{"data":{"name":"km"},"transform":[{"filter":"datum.p=='A'&&datum.g==2"}],"mark":{"type":"line","color":"#3a2f96","strokeWidth":1.5,"interpolate":"step-after"},
"encoding":{"x":{"field":"t","type":"quantitative","scale":{"domain":[0,9],"nice":false},"axis":{"orient":"top","title":null,"labels":false,"values":[0,0.25,0.5,0.75,1,1.25,1.5,1.75,2,2.25,2.5,2.75,3,3.25,3.5,3.75,4,4.25,4.5,4.75,5,5.25,5.5,5.75,6,6.25,6.5,6.75,7,7.25,7.5,7.75,8,8.25,8.5,8.75,9],"tickSize":-3,"tickColor":"black","domainColor":"black","domainWidth":2}},
"y":{"field":"f","type":"quantitative","scale":{"domain":[0.5,1],"nice":false,"zero":false},"axis":{"orient":"right","title":null,"labels":false,"values":[0.5,0.52,0.54,0.56,0.58,0.6,0.62,0.64,0.66,0.68,0.7,0.72,0.74,0.76,0.78,0.8,0.82,0.84,0.86,0.88,0.9,0.92,0.94,0.96,0.98,1],"tickSize":-3,"tickColor":"black","domainColor":"black","domainWidth":2}}}},
{"data":{"name":"km"},"transform":[{"filter":"datum.p=='A'&&datum.g==1&&datum.c==1"}],"mark":{"type":"point","shape":"M-1,-1L1,1M-1,1L1,-1","filled":false,"color":"#d22f2f","opacity":1,"size":42,"strokeWidth":1.7},
"encoding":{"x":{"field":"t","type":"quantitative","axis":null,"scale":{"domain":[0,9],"nice":false}},"y":{"field":"f","type":"quantitative","axis":null,"scale":{"domain":[0.5,1],"nice":false,"zero":false}}}},
{"data":{"name":"km"},"transform":[{"filter":"datum.p=='A'&&datum.g==2&&datum.c==1"}],"mark":{"type":"point","shape":"circle","filled":false,"fill":"#8f8ad0","fillOpacity":0.6,"color":"#3a2f96","opacity":1,"size":24,"strokeWidth":1.3},
"encoding":{"x":{"field":"t","type":"quantitative","axis":null,"scale":{"domain":[0,9],"nice":false}},"y":{"field":"f","type":"quantitative","axis":null,"scale":{"domain":[0.5,1],"nice":false,"zero":false}}}},
{"data":{"name":"notes"},"transform":[{"filter":"datum.p=='A'&&datum.i==0"}],"mark":{"type":"text","fontSize":17,"align":"left","color":"#222"},
"encoding":{"x":{"field":"t","type":"quantitative","axis":null,"scale":{"domain":[0,9],"nice":false}},"y":{"field":"f","type":"quantitative","axis":null,"scale":{"domain":[0.5,1],"nice":false,"zero":false}},"text":{"field":"s"}}},
{"data":{"name":"notes"},"transform":[{"filter":"datum.p=='A'&&datum.i==1"}],"mark":{"type":"text","fontSize":17,"align":"left","fontStyle":"italic","color":"#222"},
"encoding":{"x":{"field":"t","type":"quantitative","axis":null,"scale":{"domain":[0,9],"nice":false}},"y":{"field":"f","type":"quantitative","axis":null,"scale":{"domain":[0.5,1],"nice":false,"zero":false}},"text":{"field":"s"}}}
],"resolve":{"scale":{"x":"independent","y":"independent"},"axis":{"x":"independent","y":"independent"}}},
{"width":276.6,"height":267,"title":{"text":"Dukes’ B and C","anchor":"start","frame":"group","fontSize":17.5,"fontWeight":"normal","offset":15,"dx":7},
"layer":[
{"data":{"name":"km"},"transform":[{"filter":"datum.p=='B'&&datum.g==1"}],"mark":{"type":"line","color":"#d22f2f","strokeWidth":1.5,"interpolate":"step-after"},
"encoding":{"x":{"field":"t","type":"quantitative","scale":{"domain":[0,9],"nice":false},"axis":{"orient":"bottom","title":"Years","titlePadding":3,"values":[0,0.25,0.5,0.75,1,1.25,1.5,1.75,2,2.25,2.5,2.75,3,3.25,3.5,3.75,4,4.25,4.5,4.75,5,5.25,5.5,5.75,6,6.25,6.5,6.75,7,7.25,7.5,7.75,8,8.25,8.5,8.75,9],"labelExpr":"datum.value%1==0?datum.value:''","labelOverlap":false,"labelBound":false,"labelFlush":false,"tickSize":-3,"tickColor":"black","domainColor":"black","domainWidth":2,"labelPadding":9}},
"y":{"field":"f","type":"quantitative","scale":{"domain":[0.5,1],"nice":false,"zero":false},"axis":{"orient":"left","title":null,"values":[0.5,0.52,0.54,0.56,0.58,0.6,0.62,0.64,0.66,0.68,0.7,0.72,0.74,0.76,0.78,0.8,0.82,0.84,0.86,0.88,0.9,0.92,0.94,0.96,0.98,1],"labelExpr":"round(datum.value*100)%10==0?format(datum.value,'.1f'):''","labelOverlap":false,"labelBound":false,"labelFlush":false,"tickSize":-3,"tickColor":"black","domainColor":"black","domainWidth":2,"labelPadding":7}}}},
{"data":{"name":"km"},"transform":[{"filter":"datum.p=='B'&&datum.g==2"}],"mark":{"type":"line","color":"#3a2f96","strokeWidth":1.5,"interpolate":"step-after"},
"encoding":{"x":{"field":"t","type":"quantitative","scale":{"domain":[0,9],"nice":false},"axis":{"orient":"top","title":null,"labels":false,"values":[0,0.25,0.5,0.75,1,1.25,1.5,1.75,2,2.25,2.5,2.75,3,3.25,3.5,3.75,4,4.25,4.5,4.75,5,5.25,5.5,5.75,6,6.25,6.5,6.75,7,7.25,7.5,7.75,8,8.25,8.5,8.75,9],"tickSize":-3,"tickColor":"black","domainColor":"black","domainWidth":2}},
"y":{"field":"f","type":"quantitative","scale":{"domain":[0.5,1],"nice":false,"zero":false},"axis":{"orient":"right","title":null,"labels":false,"values":[0.5,0.52,0.54,0.56,0.58,0.6,0.62,0.64,0.66,0.68,0.7,0.72,0.74,0.76,0.78,0.8,0.82,0.84,0.86,0.88,0.9,0.92,0.94,0.96,0.98,1],"tickSize":-3,"tickColor":"black","domainColor":"black","domainWidth":2}}}},
{"data":{"name":"km"},"transform":[{"filter":"datum.p=='B'&&datum.g==1&&datum.c==1"}],"mark":{"type":"point","shape":"M-1,-1L1,1M-1,1L1,-1","filled":false,"color":"#d22f2f","opacity":1,"size":42,"strokeWidth":1.7},
"encoding":{"x":{"field":"t","type":"quantitative","axis":null,"scale":{"domain":[0,9],"nice":false}},"y":{"field":"f","type":"quantitative","axis":null,"scale":{"domain":[0.5,1],"nice":false,"zero":false}}}},
{"data":{"name":"km"},"transform":[{"filter":"datum.p=='B'&&datum.g==2&&datum.c==1"}],"mark":{"type":"point","shape":"circle","filled":false,"fill":"#8f8ad0","fillOpacity":0.6,"color":"#3a2f96","opacity":1,"size":24,"strokeWidth":1.3},
"encoding":{"x":{"field":"t","type":"quantitative","axis":null,"scale":{"domain":[0,9],"nice":false}},"y":{"field":"f","type":"quantitative","axis":null,"scale":{"domain":[0.5,1],"nice":false,"zero":false}}}},
{"data":{"name":"notes"},"transform":[{"filter":"datum.p=='B'&&datum.i==0"}],"mark":{"type":"text","fontSize":17,"align":"left","color":"#222"},
"encoding":{"x":{"field":"t","type":"quantitative","axis":null,"scale":{"domain":[0,9],"nice":false}},"y":{"field":"f","type":"quantitative","axis":null,"scale":{"domain":[0.5,1],"nice":false,"zero":false}},"text":{"field":"s"}}},
{"data":{"name":"notes"},"transform":[{"filter":"datum.p=='B'&&datum.i==1"}],"mark":{"type":"text","fontSize":17,"align":"left","fontStyle":"italic","color":"#222"},
"encoding":{"x":{"field":"t","type":"quantitative","axis":null,"scale":{"domain":[0,9],"nice":false}},"y":{"field":"f","type":"quantitative","axis":null,"scale":{"domain":[0.5,1],"nice":false,"zero":false}},"text":{"field":"s"}}}
],"resolve":{"scale":{"x":"independent","y":"independent"},"axis":{"x":"independent","y":"independent"}}}
],"spacing":67.7,"bounds":"flush"}
],"spacing":0,"bounds":"flush"}
],"spacing":20.9}
